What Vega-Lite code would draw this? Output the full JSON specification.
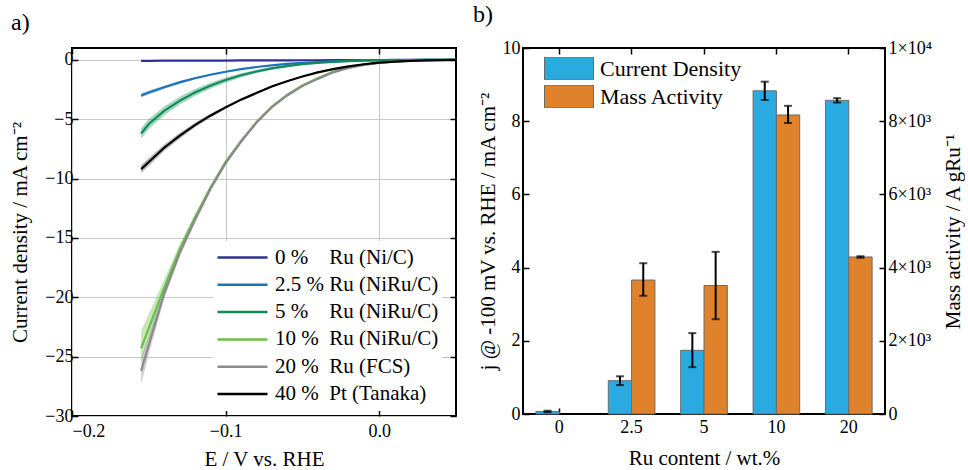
{
  "$schema": "https://vega.github.io/schema/vega-lite/v6.json",
  "background": "white",
  "padding": {"left": 8, "top": 2, "right": 0, "bottom": 0},
  "config": {
    "font": "'Liberation Serif', 'Times New Roman', serif",
    "view": {"stroke": "black", "strokeWidth": 2},
    "axis": {"labelFont": "'Liberation Serif', 'Times New Roman', serif", "titleFont": "'Liberation Serif', 'Times New Roman', serif", "labelFontSize": 18, "titleFontSize": 21, "labelColor": "black", "titleColor": "black", "titleFontWeight": "normal", "tickColor": "black", "tickWidth": 1.5, "domain": false},
    "legend": {"labelFont": "'Liberation Serif', 'Times New Roman', serif", "labelColor": "black"},
    "title": {"font": "'Liberation Serif', 'Times New Roman', serif", "fontSize": 24, "fontWeight": "normal", "color": "black", "anchor": "start", "frame": "group"}
  },
  "spacing": 14,
  "resolve": {"scale": {"color": "independent", "fill": "independent"}, "legend": {"color": "independent"}},
  "hconcat": [
    {
      "width": 384,
      "height": 368,
      "title": {"text": "a)", "dx": -61, "offset": 12},
      "data": {"values": [
        {"s":"0 % Ru (Ni/C)","E":-0.155,"j":-0.08,"lo":-0.11,"hi":-0.05},
        {"s":"0 % Ru (Ni/C)","E":-0.15,"j":-0.08,"lo":-0.11,"hi":-0.05},
        {"s":"0 % Ru (Ni/C)","E":-0.14,"j":-0.07,"lo":-0.10,"hi":-0.04},
        {"s":"0 % Ru (Ni/C)","E":-0.13,"j":-0.07,"lo":-0.10,"hi":-0.04},
        {"s":"0 % Ru (Ni/C)","E":-0.12,"j":-0.07,"lo":-0.10,"hi":-0.04},
        {"s":"0 % Ru (Ni/C)","E":-0.11,"j":-0.06,"lo":-0.09,"hi":-0.03},
        {"s":"0 % Ru (Ni/C)","E":-0.10,"j":-0.06,"lo":-0.09,"hi":-0.03},
        {"s":"0 % Ru (Ni/C)","E":-0.09,"j":-0.05,"lo":-0.08,"hi":-0.02},
        {"s":"0 % Ru (Ni/C)","E":-0.08,"j":-0.05,"lo":-0.08,"hi":-0.02},
        {"s":"0 % Ru (Ni/C)","E":-0.07,"j":-0.04,"lo":-0.07,"hi":-0.01},
        {"s":"0 % Ru (Ni/C)","E":-0.06,"j":-0.04,"lo":-0.07,"hi":-0.01},
        {"s":"0 % Ru (Ni/C)","E":-0.05,"j":-0.03,"lo":-0.06,"hi":0},
        {"s":"0 % Ru (Ni/C)","E":-0.04,"j":-0.03,"lo":-0.06,"hi":0},
        {"s":"0 % Ru (Ni/C)","E":-0.03,"j":-0.02,"lo":-0.04,"hi":0},
        {"s":"0 % Ru (Ni/C)","E":-0.02,"j":-0.02,"lo":-0.04,"hi":0},
        {"s":"0 % Ru (Ni/C)","E":-0.01,"j":-0.01,"lo":-0.02,"hi":0},
        {"s":"0 % Ru (Ni/C)","E":0.0,"j":-0.01,"lo":-0.02,"hi":0},
        {"s":"0 % Ru (Ni/C)","E":0.01,"j":0,"lo":0,"hi":0},
        {"s":"0 % Ru (Ni/C)","E":0.02,"j":0,"lo":0,"hi":0},
        {"s":"0 % Ru (Ni/C)","E":0.03,"j":0,"lo":0,"hi":0},
        {"s":"0 % Ru (Ni/C)","E":0.05,"j":0,"lo":0,"hi":0},
        {"s":"2.5 % Ru (NiRu/C)","E":-0.155,"j":-3.0,"lo":-3.18,"hi":-2.82},
        {"s":"2.5 % Ru (NiRu/C)","E":-0.15,"j":-2.75,"lo":-2.91,"hi":-2.59},
        {"s":"2.5 % Ru (NiRu/C)","E":-0.14,"j":-2.3,"lo":-2.43,"hi":-2.17},
        {"s":"2.5 % Ru (NiRu/C)","E":-0.13,"j":-1.9,"lo":-2.01,"hi":-1.79},
        {"s":"2.5 % Ru (NiRu/C)","E":-0.12,"j":-1.55,"lo":-1.64,"hi":-1.46},
        {"s":"2.5 % Ru (NiRu/C)","E":-0.11,"j":-1.25,"lo":-1.32,"hi":-1.18},
        {"s":"2.5 % Ru (NiRu/C)","E":-0.10,"j":-1.0,"lo":-1.06,"hi":-0.94},
        {"s":"2.5 % Ru (NiRu/C)","E":-0.09,"j":-0.78,"lo":-0.83,"hi":-0.73},
        {"s":"2.5 % Ru (NiRu/C)","E":-0.08,"j":-0.6,"lo":-0.64,"hi":-0.56},
        {"s":"2.5 % Ru (NiRu/C)","E":-0.07,"j":-0.46,"lo":-0.49,"hi":-0.43},
        {"s":"2.5 % Ru (NiRu/C)","E":-0.06,"j":-0.34,"lo":-0.36,"hi":-0.32},
        {"s":"2.5 % Ru (NiRu/C)","E":-0.05,"j":-0.25,"lo":-0.27,"hi":-0.23},
        {"s":"2.5 % Ru (NiRu/C)","E":-0.04,"j":-0.18,"lo":-0.19,"hi":-0.17},
        {"s":"2.5 % Ru (NiRu/C)","E":-0.03,"j":-0.12,"lo":-0.13,"hi":-0.11},
        {"s":"2.5 % Ru (NiRu/C)","E":-0.02,"j":-0.08,"lo":-0.09,"hi":-0.07},
        {"s":"2.5 % Ru (NiRu/C)","E":-0.01,"j":-0.05,"lo":-0.06,"hi":-0.04},
        {"s":"2.5 % Ru (NiRu/C)","E":0.0,"j":-0.03,"lo":-0.04,"hi":-0.02},
        {"s":"2.5 % Ru (NiRu/C)","E":0.01,"j":-0.02,"lo":-0.02,"hi":-0.02},
        {"s":"2.5 % Ru (NiRu/C)","E":0.02,"j":-0.01,"lo":-0.01,"hi":-0.01},
        {"s":"2.5 % Ru (NiRu/C)","E":0.03,"j":0,"lo":0,"hi":0},
        {"s":"2.5 % Ru (NiRu/C)","E":0.05,"j":0,"lo":0,"hi":0},
        {"s":"5 % Ru (NiRu/C)","E":-0.155,"j":-6.2,"lo":-6.65,"hi":-5.75},
        {"s":"5 % Ru (NiRu/C)","E":-0.15,"j":-5.4,"lo":-5.82,"hi":-4.98},
        {"s":"5 % Ru (NiRu/C)","E":-0.14,"j":-4.3,"lo":-4.68,"hi":-3.92},
        {"s":"5 % Ru (NiRu/C)","E":-0.13,"j":-3.45,"lo":-3.79,"hi":-3.11},
        {"s":"5 % Ru (NiRu/C)","E":-0.12,"j":-2.75,"lo":-3.05,"hi":-2.45},
        {"s":"5 % Ru (NiRu/C)","E":-0.11,"j":-2.18,"lo":-2.44,"hi":-1.92},
        {"s":"5 % Ru (NiRu/C)","E":-0.10,"j":-1.7,"lo":-1.92,"hi":-1.48},
        {"s":"5 % Ru (NiRu/C)","E":-0.09,"j":-1.3,"lo":-1.48,"hi":-1.12},
        {"s":"5 % Ru (NiRu/C)","E":-0.08,"j":-0.98,"lo":-1.12,"hi":-0.84},
        {"s":"5 % Ru (NiRu/C)","E":-0.07,"j":-0.72,"lo":-0.83,"hi":-0.61},
        {"s":"5 % Ru (NiRu/C)","E":-0.06,"j":-0.52,"lo":-0.6,"hi":-0.44},
        {"s":"5 % Ru (NiRu/C)","E":-0.05,"j":-0.36,"lo":-0.42,"hi":-0.3},
        {"s":"5 % Ru (NiRu/C)","E":-0.04,"j":-0.25,"lo":-0.29,"hi":-0.21},
        {"s":"5 % Ru (NiRu/C)","E":-0.03,"j":-0.17,"lo":-0.2,"hi":-0.14},
        {"s":"5 % Ru (NiRu/C)","E":-0.02,"j":-0.11,"lo":-0.13,"hi":-0.09},
        {"s":"5 % Ru (NiRu/C)","E":-0.01,"j":-0.07,"lo":-0.08,"hi":-0.06},
        {"s":"5 % Ru (NiRu/C)","E":0.0,"j":-0.04,"lo":-0.05,"hi":-0.03},
        {"s":"5 % Ru (NiRu/C)","E":0.01,"j":-0.02,"lo":-0.02,"hi":-0.02},
        {"s":"5 % Ru (NiRu/C)","E":0.02,"j":-0.01,"lo":-0.01,"hi":-0.01},
        {"s":"5 % Ru (NiRu/C)","E":0.03,"j":0,"lo":0,"hi":0},
        {"s":"5 % Ru (NiRu/C)","E":0.05,"j":0,"lo":0,"hi":0},
        {"s":"10 % Ru (NiRu/C)","E":-0.155,"j":-24.3,"lo":-25.3,"hi":-22.8},
        {"s":"10 % Ru (NiRu/C)","E":-0.15,"j":-22.6,"lo":-23.6,"hi":-21.4},
        {"s":"10 % Ru (NiRu/C)","E":-0.14,"j":-19.2,"lo":-19.9,"hi":-18.5},
        {"s":"10 % Ru (NiRu/C)","E":-0.13,"j":-16.0,"lo":-16.45,"hi":-15.55},
        {"s":"10 % Ru (NiRu/C)","E":-0.12,"j":-13.3,"lo":-13.6,"hi":-13.0},
        {"s":"10 % Ru (NiRu/C)","E":-0.11,"j":-10.8,"lo":-11.0,"hi":-10.6},
        {"s":"10 % Ru (NiRu/C)","E":-0.10,"j":-8.6,"lo":-8.75,"hi":-8.45},
        {"s":"10 % Ru (NiRu/C)","E":-0.09,"j":-6.85,"lo":-6.97,"hi":-6.73},
        {"s":"10 % Ru (NiRu/C)","E":-0.08,"j":-5.25,"lo":-5.35,"hi":-5.15},
        {"s":"10 % Ru (NiRu/C)","E":-0.07,"j":-3.95,"lo":-4.03,"hi":-3.87},
        {"s":"10 % Ru (NiRu/C)","E":-0.06,"j":-2.95,"lo":-3.01,"hi":-2.89},
        {"s":"10 % Ru (NiRu/C)","E":-0.05,"j":-2.15,"lo":-2.2,"hi":-2.1},
        {"s":"10 % Ru (NiRu/C)","E":-0.04,"j":-1.55,"lo":-1.59,"hi":-1.51},
        {"s":"10 % Ru (NiRu/C)","E":-0.03,"j":-1.0,"lo":-1.03,"hi":-0.97},
        {"s":"10 % Ru (NiRu/C)","E":-0.02,"j":-0.65,"lo":-0.67,"hi":-0.63},
        {"s":"10 % Ru (NiRu/C)","E":-0.01,"j":-0.4,"lo":-0.41,"hi":-0.39},
        {"s":"10 % Ru (NiRu/C)","E":0.0,"j":-0.24,"lo":-0.25,"hi":-0.23},
        {"s":"10 % Ru (NiRu/C)","E":0.01,"j":-0.13,"lo":-0.13,"hi":-0.13},
        {"s":"10 % Ru (NiRu/C)","E":0.02,"j":-0.07,"lo":-0.07,"hi":-0.07},
        {"s":"10 % Ru (NiRu/C)","E":0.03,"j":-0.03,"lo":-0.03,"hi":-0.03},
        {"s":"10 % Ru (NiRu/C)","E":0.05,"j":0,"lo":0,"hi":0},
        {"s":"20 % Ru (FCS)","E":-0.155,"j":-26.2,"lo":-27.3,"hi":-25.1},
        {"s":"20 % Ru (FCS)","E":-0.15,"j":-24.0,"lo":-24.8,"hi":-23.2},
        {"s":"20 % Ru (FCS)","E":-0.14,"j":-19.7,"lo":-20.15,"hi":-19.25},
        {"s":"20 % Ru (FCS)","E":-0.13,"j":-16.3,"lo":-16.6,"hi":-16.0},
        {"s":"20 % Ru (FCS)","E":-0.12,"j":-13.5,"lo":-13.75,"hi":-13.25},
        {"s":"20 % Ru (FCS)","E":-0.11,"j":-10.9,"lo":-11.1,"hi":-10.7},
        {"s":"20 % Ru (FCS)","E":-0.10,"j":-8.7,"lo":-8.85,"hi":-8.55},
        {"s":"20 % Ru (FCS)","E":-0.09,"j":-6.9,"lo":-7.02,"hi":-6.78},
        {"s":"20 % Ru (FCS)","E":-0.08,"j":-5.3,"lo":-5.4,"hi":-5.2},
        {"s":"20 % Ru (FCS)","E":-0.07,"j":-4.0,"lo":-4.08,"hi":-3.92},
        {"s":"20 % Ru (FCS)","E":-0.06,"j":-3.0,"lo":-3.06,"hi":-2.94},
        {"s":"20 % Ru (FCS)","E":-0.05,"j":-2.2,"lo":-2.25,"hi":-2.15},
        {"s":"20 % Ru (FCS)","E":-0.04,"j":-1.6,"lo":-1.64,"hi":-1.56},
        {"s":"20 % Ru (FCS)","E":-0.03,"j":-1.05,"lo":-1.08,"hi":-1.02},
        {"s":"20 % Ru (FCS)","E":-0.02,"j":-0.68,"lo":-0.7,"hi":-0.66},
        {"s":"20 % Ru (FCS)","E":-0.01,"j":-0.42,"lo":-0.43,"hi":-0.41},
        {"s":"20 % Ru (FCS)","E":0.0,"j":-0.25,"lo":-0.26,"hi":-0.24},
        {"s":"20 % Ru (FCS)","E":0.01,"j":-0.14,"lo":-0.14,"hi":-0.14},
        {"s":"20 % Ru (FCS)","E":0.02,"j":-0.08,"lo":-0.08,"hi":-0.08},
        {"s":"20 % Ru (FCS)","E":0.03,"j":-0.04,"lo":-0.04,"hi":-0.04},
        {"s":"20 % Ru (FCS)","E":0.05,"j":0,"lo":0,"hi":0},
        {"s":"40 % Pt (Tanaka)","E":-0.155,"j":-9.2,"lo":-9.55,"hi":-8.85},
        {"s":"40 % Pt (Tanaka)","E":-0.15,"j":-8.6,"lo":-8.93,"hi":-8.27},
        {"s":"40 % Pt (Tanaka)","E":-0.14,"j":-7.4,"lo":-7.68,"hi":-7.12},
        {"s":"40 % Pt (Tanaka)","E":-0.13,"j":-6.4,"lo":-6.64,"hi":-6.16},
        {"s":"40 % Pt (Tanaka)","E":-0.12,"j":-5.5,"lo":-5.7,"hi":-5.3},
        {"s":"40 % Pt (Tanaka)","E":-0.11,"j":-4.7,"lo":-4.87,"hi":-4.53},
        {"s":"40 % Pt (Tanaka)","E":-0.10,"j":-4.0,"lo":-4.14,"hi":-3.86},
        {"s":"40 % Pt (Tanaka)","E":-0.09,"j":-3.35,"lo":-3.47,"hi":-3.23},
        {"s":"40 % Pt (Tanaka)","E":-0.08,"j":-2.8,"lo":-2.9,"hi":-2.7},
        {"s":"40 % Pt (Tanaka)","E":-0.07,"j":-2.25,"lo":-2.33,"hi":-2.17},
        {"s":"40 % Pt (Tanaka)","E":-0.06,"j":-1.8,"lo":-1.86,"hi":-1.74},
        {"s":"40 % Pt (Tanaka)","E":-0.05,"j":-1.4,"lo":-1.45,"hi":-1.35},
        {"s":"40 % Pt (Tanaka)","E":-0.04,"j":-1.05,"lo":-1.09,"hi":-1.01},
        {"s":"40 % Pt (Tanaka)","E":-0.03,"j":-0.78,"lo":-0.81,"hi":-0.75},
        {"s":"40 % Pt (Tanaka)","E":-0.02,"j":-0.55,"lo":-0.57,"hi":-0.53},
        {"s":"40 % Pt (Tanaka)","E":-0.01,"j":-0.37,"lo":-0.38,"hi":-0.36},
        {"s":"40 % Pt (Tanaka)","E":0.0,"j":-0.24,"lo":-0.25,"hi":-0.23},
        {"s":"40 % Pt (Tanaka)","E":0.01,"j":-0.14,"lo":-0.14,"hi":-0.14},
        {"s":"40 % Pt (Tanaka)","E":0.02,"j":-0.08,"lo":-0.08,"hi":-0.08},
        {"s":"40 % Pt (Tanaka)","E":0.03,"j":-0.04,"lo":-0.04,"hi":-0.04},
        {"s":"40 % Pt (Tanaka)","E":0.05,"j":0,"lo":0,"hi":0}
      ]},
      "layer": [
        {
          "mark": {"type": "area", "fillOpacity": 0.4, "clip": true},
          "encoding": {
            "x": {"field": "E", "type": "quantitative",
                  "scale": {"domain": [-0.2, 0.05], "nice": false, "zero": false},
                  "axis": {"orient": "bottom", "values": [-0.2, -0.1, 0], "format": ".1f", "title": "E / V vs. RHE", "grid": true, "gridColor": "#c8c8c8", "gridWidth": 1, "tickSize": -6, "labelPadding": 12, "titlePadding": 8}},
            "y": {"field": "lo", "type": "quantitative",
                  "scale": {"domain": [-30, 1], "nice": false, "zero": false},
                  "axis": {"orient": "left", "values": [-30, -25, -20, -15, -10, -5, 0], "title": "Current density / mA cm⁻²", "grid": true, "gridColor": "#c8c8c8", "gridWidth": 1, "tickSize": -6, "labelPadding": 5, "titlePadding": 14}},
            "y2": {"field": "hi"},
            "fill": {"field": "s", "type": "nominal",
                     "scale": {"domain": ["40 % Pt (Tanaka)", "20 % Ru (FCS)", "10 % Ru (NiRu/C)", "5 % Ru (NiRu/C)", "2.5 % Ru (NiRu/C)", "0 % Ru (Ni/C)"],
                               "range": ["#555555", "#8a8a8a", "#74c450", "#1f9a63", "#1c75bc", "#2e3192"]},
                     "legend": null}
          }
        },
        {
          "mark": {"type": "line", "strokeWidth": 2.2, "clip": true},
          "encoding": {
            "x": {"field": "E", "type": "quantitative",
                  "axis": {"orient": "top", "values": [-0.2, -0.1, 0], "labels": false, "title": null, "grid": false, "tickSize": -6}},
            "y": {"field": "j", "type": "quantitative",
                  "axis": {"orient": "right", "values": [-30, -25, -20, -15, -10, -5, 0], "labels": false, "title": null, "grid": false, "tickSize": -6}},
            "color": {"field": "s", "type": "nominal",
                      "scale": {"domain": ["0 % Ru (Ni/C)", "2.5 % Ru (NiRu/C)", "5 % Ru (NiRu/C)", "10 % Ru (NiRu/C)", "20 % Ru (FCS)", "40 % Pt (Tanaka)"],
                                "range": ["#2e3192", "#1c75bc", "#148a5a", "#6abf4b", "#8a8a8a", "#000000"]},
                      "legend": {"orient": "none", "legendX": 141, "legendY": 193, "title": null, "symbolType": "stroke", "symbolSize": 2500, "symbolStrokeWidth": 2.5, "symbolOpacity": 1, "clipHeight": 27, "rowPadding": 0.3, "labelFontSize": 21, "labelOffset": 6, "labelLimit": 400, "fillColor": "white", "padding": 3,
                                 "labelExpr": "substring(datum.label, 1, 2) == ' ' ? replace(datum.label, '% ', '%\u00a0\u00a0\u00a0 ') : substring(datum.label, 2, 3) == ' ' ? replace(datum.label, '% ', '%\u00a0 ') : datum.label"}}
          }
        }
      ],
      "resolve": {"axis": {"x": "independent", "y": "independent"}}
    },
    {
      "width": 362,
      "height": 366,
      "title": {"text": "b)", "dx": -50, "offset": 12},
      "data": {"values": [
        {"content": "0", "series": "Current Density", "value": 0.07, "lo": 0.05, "hi": 0.09},
        {"content": "2.5", "series": "Current Density", "value": 0.91, "lo": 0.79, "hi": 1.03},
        {"content": "5", "series": "Current Density", "value": 1.74, "lo": 1.28, "hi": 2.21},
        {"content": "10", "series": "Current Density", "value": 8.83, "lo": 8.58, "hi": 9.08},
        {"content": "20", "series": "Current Density", "value": 8.57, "lo": 8.51, "hi": 8.63},
        {"content": "2.5", "series": "Mass Activity", "value": 3660, "lo": 3230, "hi": 4120},
        {"content": "5", "series": "Mass Activity", "value": 3510, "lo": 2590, "hi": 4430},
        {"content": "10", "series": "Mass Activity", "value": 8170, "lo": 7950, "hi": 8420},
        {"content": "20", "series": "Mass Activity", "value": 4290, "lo": 4270, "hi": 4310}
      ]},
      "layer": [
        {
          "transform": [{"filter": "datum.series == 'Current Density'"}],
          "layer": [
            {
              "mark": {"type": "bar", "stroke": "#6b6b6b", "strokeWidth": 1},
              "encoding": {
                "x": {"field": "content", "type": "nominal", "sort": ["0", "2.5", "5", "10", "20"],
                      "scale": {"domain": ["0", "2.5", "5", "10", "20"], "paddingInner": 0.356, "paddingOuter": 0.178},
                      "axis": {"orient": "bottom", "labelAngle": 0, "title": "Ru content / wt.%", "tickSize": -6, "labelPadding": 10, "titlePadding": 11}},
                "xOffset": {"field": "series", "type": "nominal", "scale": {"domain": ["Current Density", "Mass Activity"]}},
                "y": {"field": "value", "type": "quantitative", "scale": {"domain": [0, 10], "nice": false},
                      "axis": {"orient": "left", "values": [0, 1, 2, 3, 4, 5, 6, 7, 8, 9, 10], "labelExpr": "datum.value % 2 ? '' : datum.label",
                               "tickSize": {"condition": {"test": "datum.value % 2 == 1", "value": -3}, "value": -6},
                               "title": "j @ -100 mV vs. RHE / mA cm⁻²", "grid": false, "labelPadding": 9, "titlePadding": 4}},
                "color": {"field": "series", "type": "nominal",
                          "scale": {"domain": ["Current Density", "Mass Activity"], "range": ["#29abe2", "#e0822b"]},
                          "legend": {"orient": "none", "legendX": 19, "legendY": 7, "title": null, "symbolType": "M-1,-0.46H1V0.46H-1Z", "symbolSize": 2401, "symbolStrokeColor": "#6b6b6b", "symbolStrokeWidth": 1, "symbolOpacity": 1, "clipHeight": 23, "rowPadding": 5, "labelFontSize": 22, "labelOffset": 6, "labelLimit": 300, "padding": 2}}
              }
            },
            {
              "mark": {"type": "rule", "strokeWidth": 2, "color": "black"},
              "encoding": {
                "x": {"field": "content", "type": "nominal", "sort": ["0", "2.5", "5", "10", "20"]},
                "xOffset": {"field": "series", "type": "nominal"},
                "y": {"field": "lo", "type": "quantitative"},
                "y2": {"field": "hi"}
              }
            },
            {
              "mark": {"type": "tick", "thickness": 2, "size": 8, "color": "black"},
              "encoding": {
                "x": {"field": "content", "type": "nominal", "sort": ["0", "2.5", "5", "10", "20"]},
                "xOffset": {"field": "series", "type": "nominal"},
                "y": {"field": "lo", "type": "quantitative"}
              }
            },
            {
              "mark": {"type": "tick", "thickness": 2, "size": 8, "color": "black"},
              "encoding": {
                "x": {"field": "content", "type": "nominal", "sort": ["0", "2.5", "5", "10", "20"]},
                "xOffset": {"field": "series", "type": "nominal"},
                "y": {"field": "hi", "type": "quantitative"}
              }
            }
          ]
        },
        {
          "transform": [{"filter": "datum.series == 'Mass Activity'"}],
          "layer": [
            {
              "mark": {"type": "bar", "stroke": "#6b6b6b", "strokeWidth": 1},
              "encoding": {
                "x": {"field": "content", "type": "nominal", "sort": ["0", "2.5", "5", "10", "20"],
                      "axis": {"orient": "top", "labels": false, "title": null, "tickSize": -6}},
                "xOffset": {"field": "series", "type": "nominal"},
                "y": {"field": "value", "type": "quantitative", "scale": {"domain": [0, 10000], "nice": false},
                      "axis": {"orient": "right", "values": [0, 2000, 4000, 6000, 8000, 10000],
                               "labelExpr": "datum.value == 0 ? '0' : datum.value == 10000 ? '1×10⁴' : format(datum.value / 1000, 'd') + '×10³'",
                               "tickSize": -6, "title": "Mass activity / A gRu⁻¹", "titleAngle": -90, "titleBaseline": "top", "grid": false, "labelPadding": 9, "titlePadding": 11}},
                "color": {"field": "series", "type": "nominal"}
              }
            },
            {
              "mark": {"type": "rule", "strokeWidth": 2, "color": "black"},
              "encoding": {
                "x": {"field": "content", "type": "nominal", "sort": ["0", "2.5", "5", "10", "20"]},
                "xOffset": {"field": "series", "type": "nominal"},
                "y": {"field": "lo", "type": "quantitative"},
                "y2": {"field": "hi"}
              }
            },
            {
              "mark": {"type": "tick", "thickness": 2, "size": 8, "color": "black"},
              "encoding": {
                "x": {"field": "content", "type": "nominal", "sort": ["0", "2.5", "5", "10", "20"]},
                "xOffset": {"field": "series", "type": "nominal"},
                "y": {"field": "lo", "type": "quantitative"}
              }
            },
            {
              "mark": {"type": "tick", "thickness": 2, "size": 8, "color": "black"},
              "encoding": {
                "x": {"field": "content", "type": "nominal", "sort": ["0", "2.5", "5", "10", "20"]},
                "xOffset": {"field": "series", "type": "nominal"},
                "y": {"field": "hi", "type": "quantitative"}
              }
            }
          ]
        }
      ],
      "resolve": {"scale": {"y": "independent"}, "axis": {"x": "independent"}}
    }
  ]
}
